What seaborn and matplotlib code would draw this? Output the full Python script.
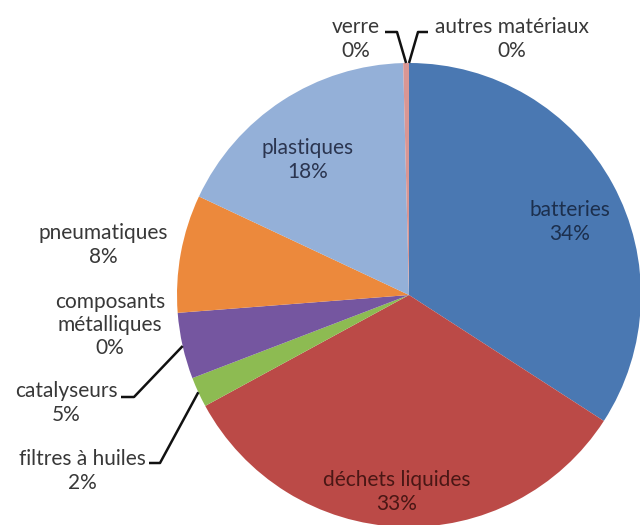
import numpy as np
import matplotlib
matplotlib.use("Agg")
import matplotlib.pyplot as plt
import seaborn as sns

# Share of each waste stream (percent), clockwise from 12 o'clock
categories = ["batteries", "déchets liquides", "filtres à huiles", "catalyseurs",
              "composants\nmétalliques", "pneumatiques", "plastiques", "verre",
              "autres matériaux"]
shares = [34.1, 32.9, 2.1, 4.6, 0.0, 8.2, 17.6, 0.4, 0.0]
colors = ["#4a78b2", "#bb4a47", "#8dbb52", "#7556a0", "#4bacc6", "#ec893c",
          "#94b0d8", "#d99694", "#c3d69b"]

sns.set_theme(style="white")
plt.rcParams["font.family"] = ["Lato", "DejaVu Sans"]

W, H = 640, 525
fig = plt.figure(figsize=(W / 100, H / 100), dpi=100)
ax = fig.add_axes([0, 0, 1, 1])

cx, cy, R = 409, H - 295, 232
wedges, _ = ax.pie(shares, colors=colors, startangle=90, counterclock=False,
                   radius=R, center=(cx, cy),
                   wedgeprops=dict(edgecolor="none", linewidth=0))
ax.set_xlim(0, W)
ax.set_ylim(0, H)
ax.set_aspect("equal")
ax.axis("off")


def pct(v):
    return f"{int(round(v))}%"


def edge_point(w, frac=1.0):
    ang = np.deg2rad((w.theta1 + w.theta2) / 2)
    return cx + frac * R * np.cos(ang), cy + frac * R * np.sin(ang)


# label block centres in pixel space (x, y from top) and text colour
label_pos = {
    0: (570, 222, "#1c2f4d"),
    1: (397, 492, "#4a1715"),
    2: (82, 471, "#383838"),
    3: (66, 403, "#383838"),
    4: (110, 325, "#383838"),
    5: (103, 245, "#383838"),
    6: (308, 160, "#2b3550"),
    7: (356, 39, "#383838"),
    8: (512, 39, "#383838"),
}

for i, (name, v) in enumerate(zip(categories, shares)):
    x, y, c = label_pos[i]
    ax.text(x, H - y, f"{name}\n{pct(v)}", ha="center", va="center",
            fontsize=15, color=c, linespacing=1.2)

# leader lines: text end -> elbow -> wedge edge
leaders = {
    3: [(121, 397), (134, 397)],
    2: [(149, 463), (160, 463)],
    7: [(385, 32), (397, 32)],
    8: [(428, 32), (418, 32)],
}
for i, pts in leaders.items():
    ex, ey = edge_point(wedges[i])
    xs = [p[0] for p in pts] + [ex]
    ys = [H - p[1] for p in pts] + [ey]
    ax.plot(xs, ys, color="#111111", lw=1.8, solid_capstyle="butt")

fig.savefig("out.png", dpi=100)
